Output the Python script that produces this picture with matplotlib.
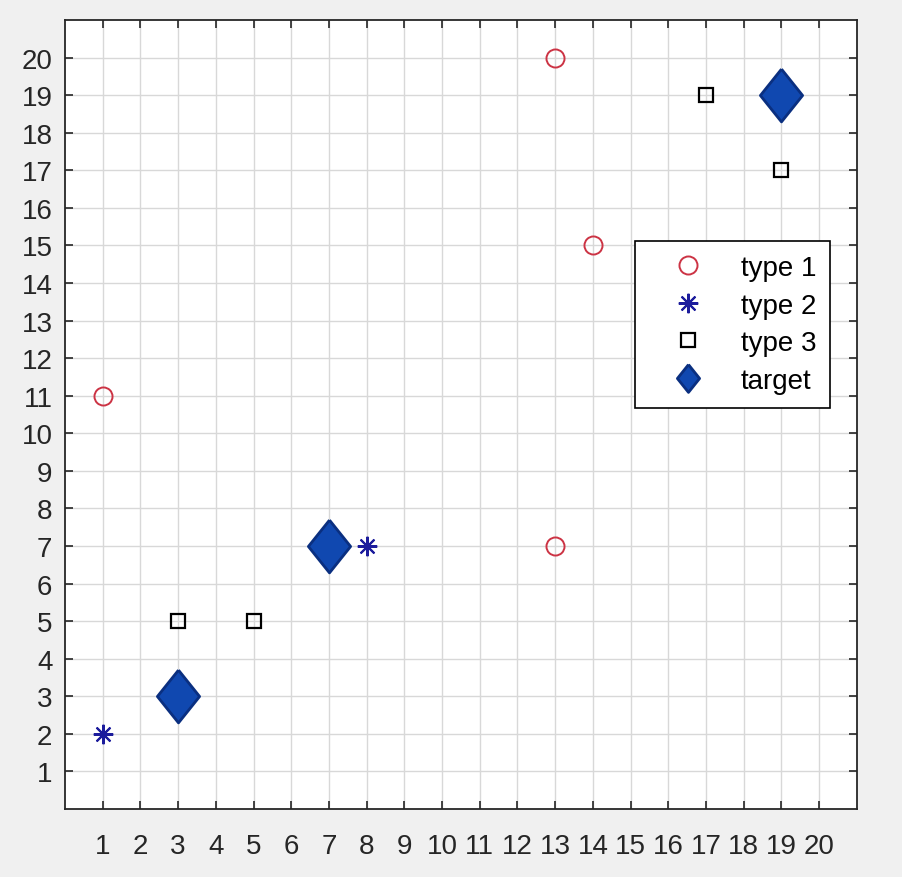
import matplotlib
matplotlib.use('Agg')
import matplotlib.pyplot as plt
from matplotlib.lines import Line2D

# point sets
type1_x = [1, 13, 14, 13]
type1_y = [11, 20, 15, 7]
type2_x = [1, 8]
type2_y = [2, 7]
type3_x = [3, 5, 17, 19]
type3_y = [5, 5, 19, 17]
target_x = [3, 7, 19]
target_y = [3, 7, 19]
ticks = list(range(1, 21))
labels = ['type 1', 'type 2', 'type 3', 'target']

plt.rcParams['font.family'] = ['Liberation Sans', 'DejaVu Sans']

# tall diamond like the matlab one
diamond = [(0, 1), (0.8, 0), (0, -1), (-0.8, 0), (0, 1)]
star = (8, 2, 0)

circle_kw = dict(marker='o', ls='none', ms=13, mfc='none', mec='#cc3344', mew=1.4)
star_kw = dict(marker=star, ls='none', ms=14, color='#1c1c9c', mew=1.5)
square_kw = dict(marker='s', ls='none', ms=10, mfc='none', mec='black', mew=1.6)
target_kw = dict(marker=diamond, ls='none', mfc='#1048b0', mec='#0a2f80', mew=2)

fig = plt.figure(figsize=(9.02, 8.78), dpi=100, facecolor='#f0f0f0')
ax = fig.add_axes([0.072, 0.0774, 0.878, 0.8986])

ax.plot(type1_x, type1_y, **circle_kw)
ax.plot(type2_x, type2_y, **star_kw)
ax.plot(type3_x, type3_y, **square_kw)
ax.plot(target_x, target_y, ms=38, **target_kw)

ax.set_xlim(0, 21)
ax.set_ylim(0, 21)
ax.set_xticks(ticks)
ax.set_yticks(ticks)
ax.grid(True, color='#d8d8d8', lw=1)
ax.set_axisbelow(True)
ax.tick_params(direction='in', length=6, width=1.2, top=True, right=True,
               labelsize=20, colors='#262626')
ax.tick_params(axis='x', pad=17)
ax.tick_params(axis='y', pad=9)
for s in ax.spines.values():
    s.set_color('#262626')
    s.set_linewidth(1.3)

handles = [
    Line2D([], [], **circle_kw),
    Line2D([], [], **star_kw),
    Line2D([], [], **square_kw),
    Line2D([], [], ms=20, **target_kw),
]
leg = ax.legend(handles, labels, loc='upper right', bbox_to_anchor=(0.966, 0.72),
                fontsize=20, frameon=True, fancybox=False, edgecolor='black',
                framealpha=1, borderpad=0.5, labelspacing=0.42, handletextpad=0.5,
                borderaxespad=0, handlelength=2.8)
leg.get_frame().set_linewidth(1.2)

fig.savefig('out.png', dpi=100, facecolor=fig.get_facecolor())
